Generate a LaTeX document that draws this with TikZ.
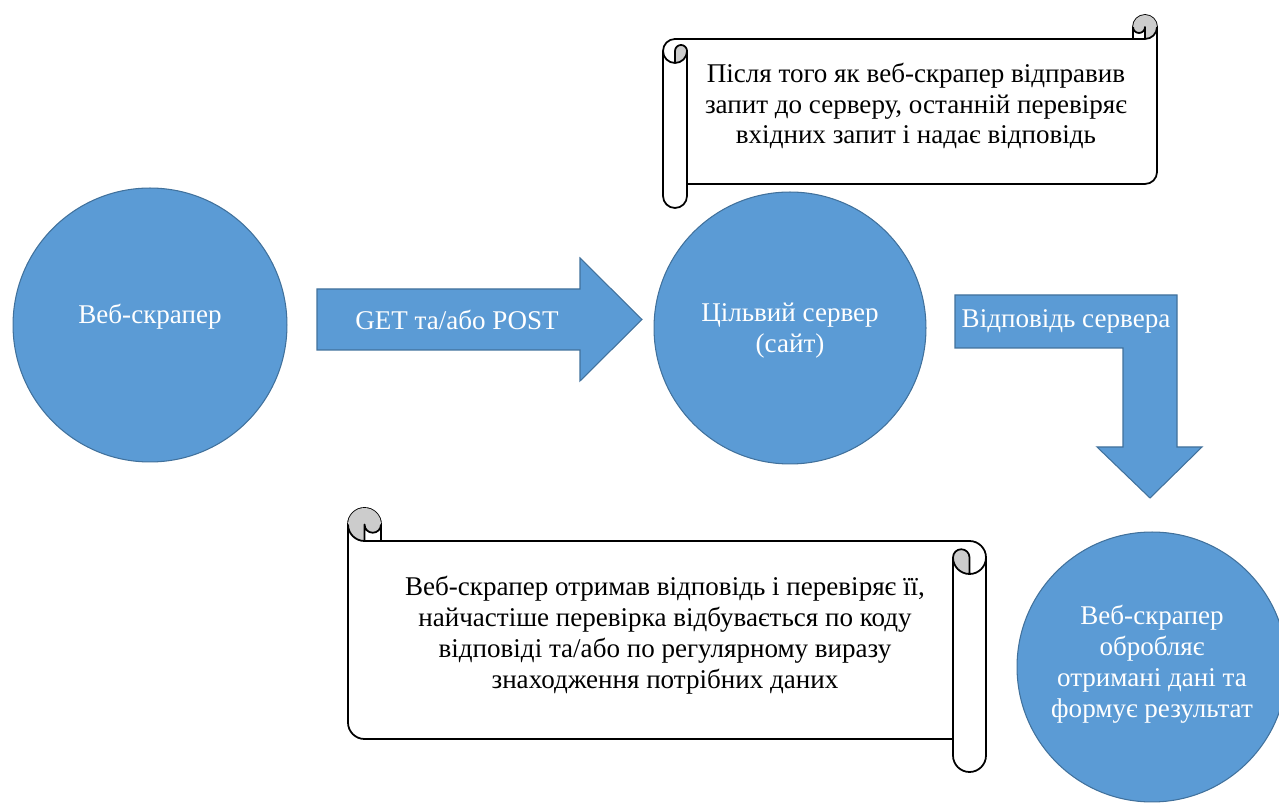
\documentclass[tikz,border=0pt]{standalone}
\usepackage{fontspec}
\setmainfont{Liberation Serif}
\usepackage{xcolor}
\usepackage{tikz}
\usetikzlibrary{calc}

\definecolor{stageblue}{HTML}{5B9BD5}
\definecolor{stageedge}{HTML}{41719C}

\newcommand{\scrollshape}[3]{%
  \pgfmathsetmacro{\scrc}{#3}%
  \pgfmathsetmacro{\scrh}{#3/2}%
  \pgfmathsetmacro{\scrq}{#3/4}%
  \pgfmathsetmacro{\scxa}{#1-#3}%
  \pgfmathsetmacro{\scxb}{#1-#3/2}%
  \pgfmathsetmacro{\scya}{1.5*#3}%
  \pgfmathsetmacro{\scyb}{2*#3}%
  \pgfmathsetmacro{\scyc}{#2-1.5*#3}%
  \pgfmathsetmacro{\scyd}{#2-#3}%
  \pgfmathsetmacro{\scye}{#2-#3/2}%
  \draw[scrollline,fill=white] (0,\scya) arc[start angle=180,end angle=270,radius=\scrh]
    -- (\scxa,\scrc) -- (\scxa,\scrh) arc[start angle=180,end angle=360,radius=\scrh]
    -- (#1,\scyc) arc[start angle=0,end angle=90,radius=\scrh]
    -- (\scrc,\scyd) -- (\scrc,\scye) arc[start angle=0,end angle=180,radius=\scrh] -- cycle;
  \fill[rollshade] (\scxb,\scrc) arc[start angle=90,end angle=-180,radius=\scrh]
    arc[start angle=180,end angle=0,radius=\scrq] -- cycle;
  \fill[rollshade] (\scrh,\scyb) arc[start angle=90,end angle=0,radius=\scrh]
    arc[start angle=0,end angle=-180,radius=\scrq] -- cycle;
  \draw[scrollline] (\scxa,\scrc) -- (\scxb,\scrc) arc[start angle=90,end angle=0,radius=\scrh];
  \draw[scrollline] (\scxb,\scrc) -- (\scxb,\scrh) arc[start angle=0,end angle=180,radius=\scrq];
  \draw[scrollline] (\scrh,\scyb) -- (\scrh,\scya) arc[start angle=180,end angle=360,radius=\scrq]
    arc[start angle=0,end angle=180,radius=\scrh];
  \draw[scrollline] (\scrc,\scya) -- (\scrc,\scyd);
}

\begin{document}
\begin{tikzpicture}[
x=0.02cm,
y=-0.02cm,
every node/.style={font=\fontsize{15.4}{17.6}\selectfont},
stage/.style={circle,draw=stageedge,fill=stageblue,line width=0.6pt,inner sep=0pt},
blockarrow/.style={draw=stageedge,fill=stageblue,line width=0.6pt,line join=miter},
whitetxt/.style={text=white,align=center,inner sep=0pt},
scrollline/.style={draw=black,line width=1pt,line join=round},
rollshade/.style={fill=black!20},
scrolltxt/.style={align=center,inner sep=0pt}
]
\useasboundingbox (0,0) rectangle (1279,803);
\clip (0,0) rectangle (1279,803);

\node[stage,minimum size=5.48cm] (scraper) at (150,325) {};
\node[stage,minimum size=5.44cm] (server) at (790,328) {};
\node[stage,minimum size=5.4cm] (result) at (1152,667) {};
\node[whitetxt] (scrapertxt) at ($(scraper)+(0,-8)$) {Веб-скрапер};
\node[whitetxt] (servertxt) at ($(server)+(0,3)$) {Цільвий сервер\\(сайт)};
\node[whitetxt] (resulttxt) at ($(result)+(0,-3)$) {Веб-скрапер\\обробляє\\отримані дані та\\формує результат};

\draw[blockarrow] (317,289) -- (580,289) -- (580,258) -- (642,319.5) -- (580,381) -- (580,350) -- (317,350) -- cycle;
\node[whitetxt] (getlbl) at (457,320) {GET та/або POST};

\draw[blockarrow] (955,295) -- (1177,295) -- (1177,447) -- (1202,447) -- (1150,498) -- (1097,447) -- (1123,447) -- (1123,348) -- (955,348) -- cycle;
\node[whitetxt] (resplbl) at (1066,321) {Відповідь сервера};

\begin{scope}[shift={(663,15)}]
\scrollshape{494}{193}{24}
\end{scope}
\node[scrolltxt] (checknote) at (916,106) {Після того як веб-скрапер відправив\\запит до серверу, останній перевіряє\\вхідних запит і надає відповідь};

\begin{scope}[shift={(986,508)},xscale=-1]
\scrollshape{638}{264}{33}
\end{scope}
\node[scrolltxt] (parsenote) at (665,635) {Веб-скрапер отримав відповідь і перевіряє її,\\найчастіше перевірка відбувається по коду\\відповіді та/або по регулярному виразу\\знаходження потрібних даних};
\end{tikzpicture}
\end{document}
